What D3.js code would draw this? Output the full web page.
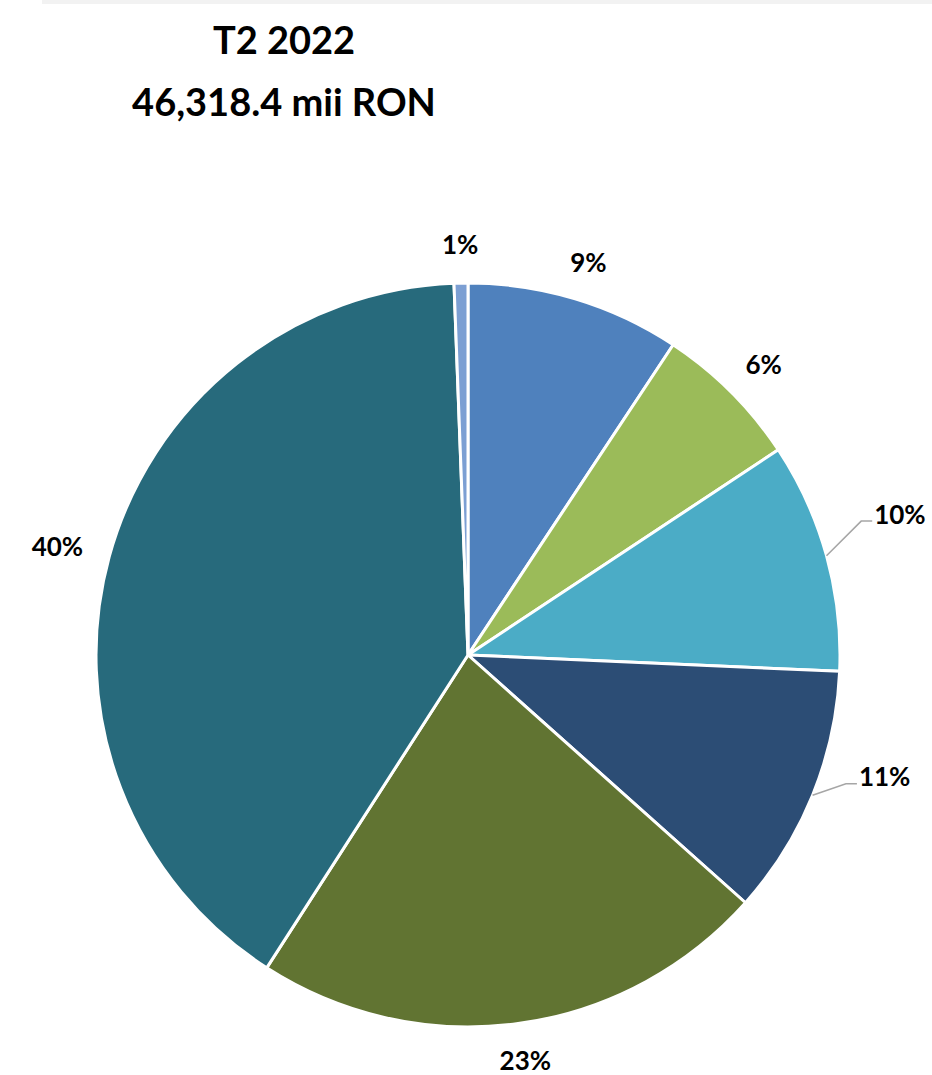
<!DOCTYPE html>
<html>
<head>
<meta charset="utf-8">
<script src="https://cdn.jsdelivr.net/npm/d3@7"></script>
<style>
  body { margin: 0; background: #fff; }
  svg { display: block; font-family: Lato, "Open Sans", sans-serif; }
</style>
</head>
<body>
<div id="chart"></div>
<script>
// slice values, clockwise from 12 o'clock
const labels = ["9%", "6%", "10%", "11%", "23%", "40%", "1%"];
const values = [9.3, 6.4, 10.0, 10.9, 22.5, 40.3, 0.6];
const colors = ["#4F81BD", "#9BBB59", "#4BACC6", "#2C4D75", "#617432", "#276A7C", "#7C9FD3"];
const leaders = [false, false, true, true, false, false, false];
const titleLines = ["T2 2022", "46,318.4 mii RON"];

const width = 932, height = 1075;
const cx = 468, cy = 655, r = 372;

const svg = d3.select("#chart").append("svg")
    .attr("width", width)
    .attr("height", height);

// thin grey band at the very top
svg.append("rect")
    .attr("x", 42).attr("y", 0)
    .attr("width", width - 42).attr("height", 4)
    .attr("fill", "#f2f2f2");

// title
svg.selectAll("text.title")
    .data(titleLines)
    .enter()
    .append("text")
    .attr("class", "title")
    .attr("x", 284)
    .attr("y", (d, i) => 54 + i * 62)
    .attr("text-anchor", "middle")
    .style("font-size", "38px")
    .style("font-weight", "bold")
    .attr("fill", "#000")
    .text(d => d);

const data = values.map((v, i) => ({ label: labels[i], value: v, color: colors[i], leader: leaders[i] }));

const pie = d3.pie().sort(null).value(d => d.value);
const arcs = pie(data);
const arc = d3.arc().innerRadius(0).outerRadius(r);

const g = svg.append("g").attr("transform", `translate(${cx},${cy})`);

g.selectAll("path.slice")
    .data(arcs)
    .enter()
    .append("path")
    .attr("class", "slice")
    .attr("d", arc)
    .attr("fill", d => d.data.color)
    .attr("stroke", "#fff")
    .attr("stroke-width", 3)
    .attr("stroke-linejoin", "round");

// labels outside end
const mid = d => (d.startAngle + d.endAngle) / 2;
const gap = 28;
const leaderLift = 25;

arcs.forEach(d => {
    const a = mid(d);
    const sx = Math.sin(a), sy = -Math.cos(a);
    if (d.data.leader) {
        const p0 = [sx * r, sy * r];
        const p1 = [sx * (r + 36), sy * (r + 36) - leaderLift];
        const p2 = [p1[0] + 11, p1[1]];
        g.append("path")
            .attr("d", d3.line()([p0, p1, p2]))
            .attr("fill", "none")
            .attr("stroke", "#a6a6a6")
            .attr("stroke-width", 1.5);
        g.append("text")
            .attr("x", p2[0] + 2)
            .attr("y", p2[1])
            .attr("dy", "0.1em")
            .attr("text-anchor", "start")
            .style("font-size", "26px")
            .style("font-weight", "bold")
            .attr("fill", "#000")
            .text(d.data.label);
    } else {
        const t = g.append("text")
            .attr("text-anchor", "middle")
            .attr("dy", "0.35em")
            .style("font-size", "26px")
            .style("font-weight", "bold")
            .attr("fill", "#000")
            .text(d.data.label);
        const bb = t.node().getBBox();
        const h = bb.height * 0.62;
        const x = sx * (r + gap) + sx * bb.width / 2;
        const y = sy * (r + gap) + sy * h / 2;
        t.attr("x", x).attr("y", y);
    }
});
</script>
</body>
</html>
